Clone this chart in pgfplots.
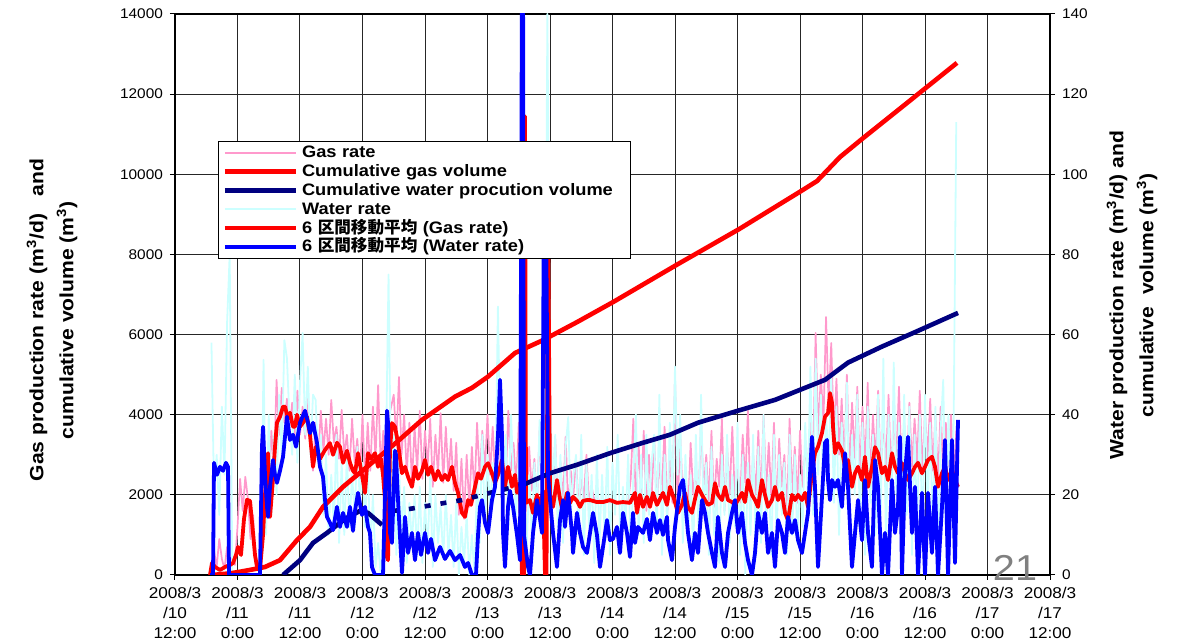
\documentclass[border=0pt]{standalone}
\usepackage{pgfplots}
\pgfplotsset{compat=1.18}
\usepackage{pgfplotstable}
\usepackage{fontspec}
\setmainfont{Liberation Sans}[FakeStretch=1.1]
\newfontfamily\cjk{Noto Sans CJK JP}

\definecolor{gaspink}{RGB}{255,153,204}
\definecolor{watercyan}{RGB}{204,255,255}
\definecolor{cumnavy}{RGB}{0,0,128}

\tikzset{
  gasrate/.style={gaspink, line width=0.85pt, line join=round},
  waterrate/.style={watercyan, line width=0.9pt, line join=round},
  cumgas/.style={red, line width=2.3pt, line join=round},
  cumwater/.style={cumnavy, line width=2.3pt, line join=round},
  magas/.style={red, line width=1.9pt, line join=round},
  mawater/.style={blue, line width=1.9pt, line join=round},
}

\pgfplotsset{
  frame/.style={
    width=437.5pt, height=280.5pt, scale only axis,
    at={(0,0)}, anchor=south west,
    xmin=0, xmax=168, clip=true,
    scaled y ticks=false, scaled x ticks=false,
    /pgf/number format/assume math mode=true,
    /pgf/number format/1000 sep={},
  },
}

\begin{document}
% half-hourly samples of the raw rates, starting 7 h after 3/10 12:00
\pgfplotstableread[row sep=\\]{
g w\\
300 58\\ 600 20\\ 200 30\\ 900 15\\ 400 42\\ 150 25\\ 700 63\\ 300 80\\ 500 0\\ 250 0\\
1200 0\\ 2400 0\\ 1600 0\\ 2450 0\\ 1900 0\\ 900 0\\ 1500 0\\ 400 0\\ 200 0\\ 100 2\\
1800 53.7\\ 3000 10\\ 2200 40\\ 3600 15\\ 2600 35\\ 4870 20\\ 3500 45\\ 4670 30\\ 3800 58.6\\ 4400 54\\
3600 38\\ 4300 30\\ 3300 50\\ 4600 28\\ 3500 48\\ 4200 60.4\\ 3400 35\\ 4500 52\\ 3200 30\\ 2600 45\\
3800 43.7\\ 2900 28\\ 4100 35\\ 3100 15\\ 3900 30\\ 3000 10\\ 4370 25\\ 3300 12\\ 3700 35\\ 2900 8\\
4120 28\\ 3000 10\\ 3500 30\\ 2600 12\\ 3900 25\\ 2800 15\\ 3400 32\\ 2400 18\\ 4000 28\\ 2300 12\\
3800 30\\ 2600 5\\ 4200 20\\ 2900 2\\ 4740 8\\ 2700 0\\ 3600 10\\ 800 30\\ 3900 75\\ 4200 20\\
4500 35\\ 3300 5\\ 4940 28\\ 3000 10\\ 4000 22\\ 2500 3\\ 3800 18\\ 2300 8\\ 3700 20\\ 2600 5\\
4100 22\\ 2400 3\\ 3600 18\\ 2700 6\\ 3900 25\\ 2200 2\\ 3500 20\\ 2500 8\\ 4040 17\\ 2300 4\\
3700 20\\ 2400 5\\ 3400 15\\ 2100 2\\ 3300 18\\ 1500 0\\ 2900 12\\ 1400 3\\ 3000 15\\ 1700 0\\
3200 10\\ 2000 0\\ 3800 25\\ 2400 8\\ 3600 35\\ 2600 12\\ 4000 30\\ 2500 15\\ 3700 28\\ 2300 20\\
4200 67\\ 2700 30\\ 3500 20\\ 2300 35\\ 4100 12\\ 2600 40\\ 3300 25\\ 2200 15\\ 3800 30\\ 2000 10\\
3500 30\\ 1600 5\\ 3200 25\\ 2100 10\\ 2900 28\\ 1700 15\\ 3600 38.7\\ 2000 20\\ 3300 30\\ 1800 140\\
3100 45\\ 1900 20\\ 3400 35\\ 1500 12\\ 2800 30\\ 1800 8\\ 3450 32\\ 1700 39.4\\ 2600 15\\ 2000 25\\
2900 30\\ 1700 10\\ 2400 35\\ 1900 5\\ 3000 28\\ 1800 12\\ 2200 25\\ 1850 3\\ 2000 30\\ 1820 8\\
1820 25\\ 1830 10\\ 1820 32\\ 1810 5\\ 1820 28\\ 1830 15\\ 1820 35\\ 1800 8\\ 1810 22\\ 1820 12\\
1800 30\\ 2400 5\\ 3900 25\\ 1700 40\\ 3300 10\\ 2000 30\\ 3600 8\\ 1600 35\\ 3000 15\\ 1900 28\\
3400 35\\ 1700 10\\ 2800 45\\ 2100 5\\ 3700 30\\ 1500 12\\ 3100 38\\ 1800 20\\ 4940 52\\ 1600 25\\
3500 40\\ 1900 8\\ 2700 30\\ 1500 10\\ 3300 25\\ 2000 5\\ 2600 35\\ 1700 12\\ 3800 45\\ 2100 15\\
3000 28\\ 1800 5\\ 3600 32\\ 1700 10\\ 2900 22\\ 2200 3\\ 3900 30\\ 1600 15\\ 3200 35\\ 2000 8\\
3700 25\\ 1900 12\\ 2800 38\\ 1800 5\\ 3500 30\\ 2300 0\\ 4100 28\\ 1700 10\\ 3000 35\\ 2000 5\\
3600 32\\ 1800 8\\ 4000 40\\ 2100 12\\ 3300 25\\ 1900 5\\ 3800 35\\ 1600 10\\ 3400 30\\ 2200 15\\
3000 28\\ 1500 5\\ 3900 35\\ 2000 10\\ 3200 30\\ 1800 8\\ 3600 25\\ 2200 12\\ 3100 38\\ 2700 20\\
3900 52\\ 2800 15\\ 6040 54\\ 3500 25\\ 5000 45\\ 3800 20\\ 6440 40\\ 4200 28\\ 5790 50\\ 3400 18\\
4900 42\\ 3000 10\\ 4400 38\\ 2700 22\\ 5000 48\\ 2500 15\\ 4300 35\\ 2900 20\\ 4700 45\\ 2400 12\\
4200 38\\ 2600 5\\ 4800 42\\ 2300 18\\ 4000 35\\ 2800 10\\ 4600 45\\ 2500 15\\ 3900 54\\ 2700 8\\
4500 40\\ 2400 12\\ 4100 53\\ 2900 20\\ 4700 38\\ 2600 10\\ 3800 45\\ 2400 15\\ 4300 42\\ 2700 5\\
3900 35\\ 2800 12\\ 4600 40\\ 2500 8\\ 4100 45\\ 2900 15\\ 4400 38\\ 2600 10\\ 4000 42\\ 2300 5\\
4200 36\\ 2500 48.7\\ 3800 10\\ 2700 40\\ 4000 15\\ 2300 38\\ 3600 113\\
}\rawrates

\begin{tikzpicture}
% ---- left axis: frame, grid, ticks and the raw gas rate
\begin{axis}[frame,
  ymin=0, ymax=14000, ytick={0,2000,...,14000},
  xtick={0,12,...,168},
  xticklabels={{2008/3\\/10\\12:00},{2008/3\\/11\\0:00},{2008/3\\/11\\12:00},
    {2008/3\\/12\\0:00},{2008/3\\/12\\12:00},{2008/3\\/13\\0:00},{2008/3\\/13\\12:00},
    {2008/3\\/14\\0:00},{2008/3\\/14\\12:00},{2008/3\\/15\\0:00},{2008/3\\/15\\12:00},
    {2008/3\\/16\\0:00},{2008/3\\/16\\12:00},{2008/3\\/17\\0:00},{2008/3\\/17\\12:00}},
  xticklabel style={align=center, font=\fontsize{7.8}{10}\selectfont},
  yticklabel style={font=\fontsize{7}{8}\selectfont},
  xtick pos=left, ytick pos=left,
  tick align=outside, major tick length=2.5pt,
  tick style={black, line width=0.5pt},
  axis line style={black, line width=0.9pt},
  grid=major, major grid style={black!85, line width=0.5pt},
  ylabel={Gas production rate (m\textsuperscript{3}/d)\ \ \ and\\cumulative volume (m\textsuperscript{3})},
  ylabel style={at={(axis description cs:-0.1406,0.4545)}, anchor=center, align=center,
    font=\bfseries\fontsize{9.6}{15}\selectfont},
]
\addplot[gasrate] table[x expr={7+0.5*\coordindex}, y=g] {\rawrates};
\end{axis}

% ---- right axis: ticks and the raw water rate
\begin{axis}[frame,
  axis x line=none, axis y line*=right,
  ymin=0, ymax=140, ytick={0,20,...,140},
  ytick pos=right,
  yticklabel style={font=\fontsize{7}{8}\selectfont},
  tick align=outside, major tick length=2.5pt,
  tick style={black, line width=0.5pt},
  axis line style={black, line width=0.9pt},
  ylabel={Water production rate (m\textsuperscript{3}/d) and\\cumulative\ \ volume (m\textsuperscript{3})},
  ylabel style={at={(axis description cs:1.0937,0.499)}, anchor=center, align=center,
    font=\bfseries\fontsize{9.6}{15}\selectfont},
]
\addplot[waterrate] table[x expr={7+0.5*\coordindex}, y=w] {\rawrates};
\end{axis}

% ---- cumulative gas and 6-point moving average of gas rate (left scale)
\begin{axis}[frame, hide axis, ymin=0, ymax=14000]
\addplot[cumgas] coordinates {
(7.10,0) (10.56,40) (12.86,90) (15.36,150) (17.28,200) (20.16,370) (23.42,870)
(25.92,1200) (28.42,1700) (32.26,2200) (37.44,2760) (42.62,3320) (47.42,3870)
(53.76,4450) (57.02,4670) (60.10,4950) (65.28,5540) (70.66,5860) (77.18,6310)
(84.10,6810) (96.58,7760) (108.29,8630) (120.19,9580) (123.26,9830) (127.68,10430)
(131.90,10880) (142.66,12000) (150.14,12780)};
\addplot[magas] coordinates {
(6.72,0) (7.10,300) (7.68,200) (8.64,125) (9.60,200) (10.56,250) (11.14,300) (11.71,500)
(12.10,700) (12.67,500) (13.25,1400) (13.82,1875) (14.40,1850) (14.98,1050) (15.36,500)
(15.74,200) (16.32,150) (16.90,1000) (17.28,2000) (17.66,2600) (17.86,3040) (18.24,1450)
(18.82,2400) (19.20,3200) (19.58,3800) (20.16,3950) (20.74,4200) (21.12,4200) (21.70,3900)
(22.08,4050) (22.66,3700) (23.04,3700) (23.42,4000) (24.00,3700) (24.58,3800) (25.34,3950)
(25.92,3500) (26.50,2700) (27.07,3200) (27.84,2900) (28.80,3120) (29.76,3290) (30.34,3000)
(31.10,3300) (31.68,3200) (32.26,2800) (33.02,3100) (33.60,2800) (34.18,2600) (34.56,2540)
(35.14,3040) (35.90,2500) (36.48,2050) (37.06,3040) (37.63,2900) (38.40,3040) (38.98,2700)
(39.55,2900) (39.94,2500) (40.32,1870) (40.70,450) (40.90,370) (41.28,3120) (41.66,3790)
(42.24,3700) (42.82,3290) (43.58,2540) (44.16,2700) (44.74,2450) (45.50,2200) (46.08,2700)
(46.66,2400) (47.42,2600) (48.00,2870) (48.58,2500) (49.15,2700) (49.92,2370) (50.50,2600)
(51.26,2370) (51.84,2500) (52.42,2370) (53.18,2700) (53.76,2300) (54.34,2050) (55.10,1550)
(55.68,1450) (56.26,1870) (56.83,1750) (57.60,2200) (58.18,2540) (58.75,2400) (59.52,2700)
(60.10,2790) (60.86,2540) (61.44,2300) (62.02,2500) (62.78,2870) (63.36,2200) (63.94,2700)
(64.70,2200) (65.28,2500) (65.66,2050) (66.24,2300) (66.62,0) (67.01,0) (67.20,11450)
(67.39,1800) (68.16,1870) (68.74,1550) (69.50,2000) (70.08,1700) (70.66,2100) (71.04,0)
(71.33,0) (71.62,9500) (72.00,2000) (72.58,1700) (73.34,2370) (73.92,1900) (74.50,1550)
(75.26,2050) (75.84,1800) (76.42,1950) (77.18,1850) (77.76,1700) (78.34,1850) (79.10,1870)
(79.68,1870) (81.02,1820) (82.18,1820) (83.52,1870) (84.86,1800) (86.02,1820) (87.36,1800)
(87.94,1950) (88.32,2050) (88.70,1550) (89.28,2000) (89.86,1700) (90.62,1950) (91.20,1700)
(91.78,2050) (92.54,1750) (93.12,1900) (93.70,2050) (94.46,1750) (95.04,2200) (95.81,1900)
(96.58,1550) (97.34,1750) (97.92,2050) (98.50,1700) (99.26,1550) (99.84,1900) (100.42,2200)
(101.18,2000) (101.76,1870) (102.34,1750) (103.10,1800) (103.68,2290) (104.26,2000)
(105.02,1870) (105.60,2200) (106.18,1870) (106.94,1820) (107.52,1750) (108.10,1870)
(108.86,2050) (109.44,1820) (110.02,2370) (110.78,2000) (111.36,1870) (111.94,1700)
(112.70,2370) (113.28,2000) (113.86,1700) (114.62,1870) (115.20,2200) (115.78,1870)
(116.54,2050) (117.12,1550) (117.70,1370) (118.46,2000) (119.04,1870) (119.62,2000)
(120.38,1870) (120.96,2050) (121.54,1700) (122.30,2540) (122.88,3040) (123.46,3200)
(124.22,3540) (124.80,3950) (125.38,4040) (125.76,4540) (126.14,4300) (126.34,3700)
(126.72,3040) (127.30,3290) (128.06,3100) (128.64,2700) (129.22,2870) (129.98,2200)
(130.56,2540) (131.14,2700) (131.90,2370) (132.48,2950) (133.06,2200) (133.82,2700)
(134.40,3190) (134.98,3040) (135.74,2540) (136.32,2700) (136.90,2370) (137.66,3040)
(138.24,2700) (138.82,2540) (139.58,2790) (140.16,2540) (140.74,2370) (141.50,2540)
(142.08,2700) (142.66,2800) (143.42,2540) (144.00,2700) (144.58,2870) (145.34,2950)
(145.92,2700) (146.50,2200) (147.26,2540) (147.84,2700) (148.42,2370) (149.18,2620)
(149.76,2370) (150.34,2200)};
\end{axis}

% ---- cumulative water and 6-point moving average of water rate (right scale), legend
\begin{axis}[frame, hide axis, ymin=0, ymax=140,
  legend style={at={(0.0491,0.7736)}, anchor=north west, draw=black, line width=0.5pt,
    fill=white, font=\bfseries\fontsize{8.3}{9.4}\selectfont,
    inner xsep=2pt, inner ysep=1pt, row sep=0pt, column sep=2pt,
    nodes={inner sep=0pt, text height=7.2pt, text depth=2.2pt},
    /tikz/column 2/.style={text width=162pt, align=left}},
  legend cell align=left,
  legend image code/.code={\path (-15.5pt,0pt) -- (20pt,0pt); \draw[#1] (0pt,0pt) -- (20pt,0pt);},
]
\addlegendimage{gasrate}\addlegendentry{Gas rate}
\addlegendimage{cumgas}\addlegendentry{Cumulative gas volume}
\addlegendimage{cumwater}\addlegendentry{Cumulative water procution volume}
\addlegendimage{watercyan, line width=1pt}\addlegendentry{Water rate}
\addlegendimage{magas}\addlegendentry{6 {\cjk 区間移動平均} (Gas rate)}
\addlegendimage{mawater}\addlegendentry{6 {\cjk 区間移動平均} (Water rate)}

\addplot[cumwater, forget plot] coordinates {
(20.74,0) (24.00,3.7) (26.50,8) (29.18,10.5) (32.64,14) (35.52,16) (37.06,15.5) (39.74,12.5)};
\addplot[cumwater, dash pattern=on 3pt off 5pt, forget plot] coordinates {
(41.86,16) (44.16,16.3) (47.42,17) (51.84,18) (55.10,18.7) (60.48,20.5) (66.82,22.5)};
\addplot[cumwater, forget plot] coordinates {
(66.82,22.5) (72.00,25.4) (77.18,27.5) (83.52,30.4) (89.86,33) (95.04,35) (100.42,38)
(108.10,41) (115.20,43.7) (121.54,47) (124.80,48.7) (129.22,53) (135.74,57) (142.08,60.6)
(150.34,65.4)};
\addplot[mawater, forget plot] coordinates {
(6.72,0) (7.30,0) (7.49,28) (8.06,25) (8.64,27) (9.22,26) (9.79,28) (10.18,27) (10.37,0)
(15.94,0) (16.32,0) (16.70,32) (16.90,37) (17.28,25) (17.66,17) (17.86,14.5) (18.24,22)
(18.82,28.7) (19.20,25) (19.58,23) (20.16,26) (20.74,29.5) (21.50,39.5) (22.08,33.7)
(22.66,35) (23.23,32) (24.00,38) (24.96,41) (25.54,38) (25.92,35.4) (26.50,38) (27.26,33)
(27.84,27) (28.42,24.5) (28.80,18.7) (29.18,14.5) (29.76,13) (30.34,11.2) (31.10,17)
(31.68,12) (32.26,15.5) (33.02,12) (33.60,17) (34.18,11) (34.56,16) (35.14,20.5) (35.90,15)
(36.48,17) (37.06,12) (37.44,10.5) (37.82,2) (38.40,0) (39.94,0) (40.32,20) (40.70,41)
(40.90,38) (41.28,10.5) (41.66,8) (42.24,31) (42.43,30) (42.82,18.7) (43.58,0.5) (44.16,14.5)
(44.74,5.5) (45.50,10.5) (46.08,3.7) (46.66,10.5) (47.23,5) (48.00,10.5) (48.58,5.5)
(49.15,9) (49.92,3.7) (50.88,7) (51.84,4) (52.80,6) (53.76,3.7) (54.72,5) (55.68,2)
(56.26,3) (57.02,0) (57.79,0) (58.18,10) (58.56,17) (58.94,18.7) (59.52,13) (60.10,10.5)
(60.86,18.7) (61.44,22) (62.02,35) (62.40,48.7) (62.78,35) (62.98,10.5) (63.36,2) (63.94,17)
(64.32,21) (64.90,17) (65.66,10) (66.24,3.7) (66.62,150) (66.82,150) (67.01,10) (67.78,2)
(68.16,0) (68.74,10.5) (69.50,18.7) (70.08,14) (70.46,10.5) (70.85,95) (71.23,95) (71.62,25)
(72.00,18.7) (72.58,10.5) (73.34,2) (73.92,13.7) (74.50,18.7) (74.88,12) (75.46,20.5)
(76.22,10.5) (76.42,5.5) (77.18,15.5) (77.76,10.5) (78.34,7) (79.10,5.5) (79.68,10.5)
(80.26,15.5) (81.02,10) (81.60,2) (82.18,7) (82.94,13.7) (83.52,8.7) (84.10,9) (84.86,12)
(85.44,5.5) (86.02,15.5) (86.78,10.5) (87.36,4.5) (87.94,15.5) (88.32,8) (88.90,12)
(89.86,10.5) (90.62,14) (91.20,8.7) (91.78,15.5) (92.54,10.5) (93.12,13.7) (93.70,10)
(94.46,14.5) (94.66,8.7) (95.42,3.7) (96.00,12) (96.96,22) (97.54,23.7) (97.92,18.7)
(98.50,10.5) (99.26,3.7) (99.84,10.5) (100.42,5.5) (101.18,18.7) (101.76,15.5) (102.34,10.5)
(103.10,5.5) (103.68,2) (104.26,14.5) (105.02,5.5) (105.60,2) (106.18,10.5) (106.94,15.5)
(107.52,18.7) (108.10,10.5) (108.86,15.5) (109.44,8) (110.02,3.7) (110.78,0) (111.36,5.5)
(111.94,15.5) (112.70,10.5) (113.28,15.5) (113.86,5.5) (114.62,10.5) (115.20,2) (115.78,13.7)
(116.54,10.5) (117.12,5.5) (117.70,14.5) (118.46,10.5) (119.04,13.7) (119.62,8.7) (120.38,5.5)
(120.96,10.5) (121.54,15.5) (122.30,34.5) (122.88,22) (123.46,2) (124.22,19.5) (124.80,33)
(125.18,33.7) (125.38,23.7) (125.76,18.7) (126.14,23.7) (126.72,22) (127.30,23.7) (128.06,17)
(128.64,30.4) (129.22,22) (129.98,2) (130.56,10.5) (131.14,18.7) (131.90,8.7) (132.48,23.7)
(133.06,10.5) (133.82,2) (134.40,28.7) (134.98,22) (135.74,0) (136.32,10.5) (136.90,0)
(137.66,23.7) (138.24,10.5) (138.82,17) (139.20,34.5) (139.58,0) (140.16,25.5) (140.74,34.5)
(141.50,10.5) (142.08,22) (142.66,0) (143.42,20.5) (144.00,0) (144.58,20.5) (145.34,5.5)
(145.92,22) (146.50,0) (147.26,17) (147.84,33.7) (148.42,0) (149.18,33.7) (149.76,3)
(150.34,38.7)};
\end{axis}

% slide number
\node[text=gray, font=\fontsize{18}{18}\selectfont, anchor=center, inner sep=0pt] at (420pt,3.5pt) {21};

\pgfresetboundingbox
\useasboundingbox (-87.5pt,-32.5pt) rectangle (504pt,287.5pt);
\end{tikzpicture}
\end{document}
